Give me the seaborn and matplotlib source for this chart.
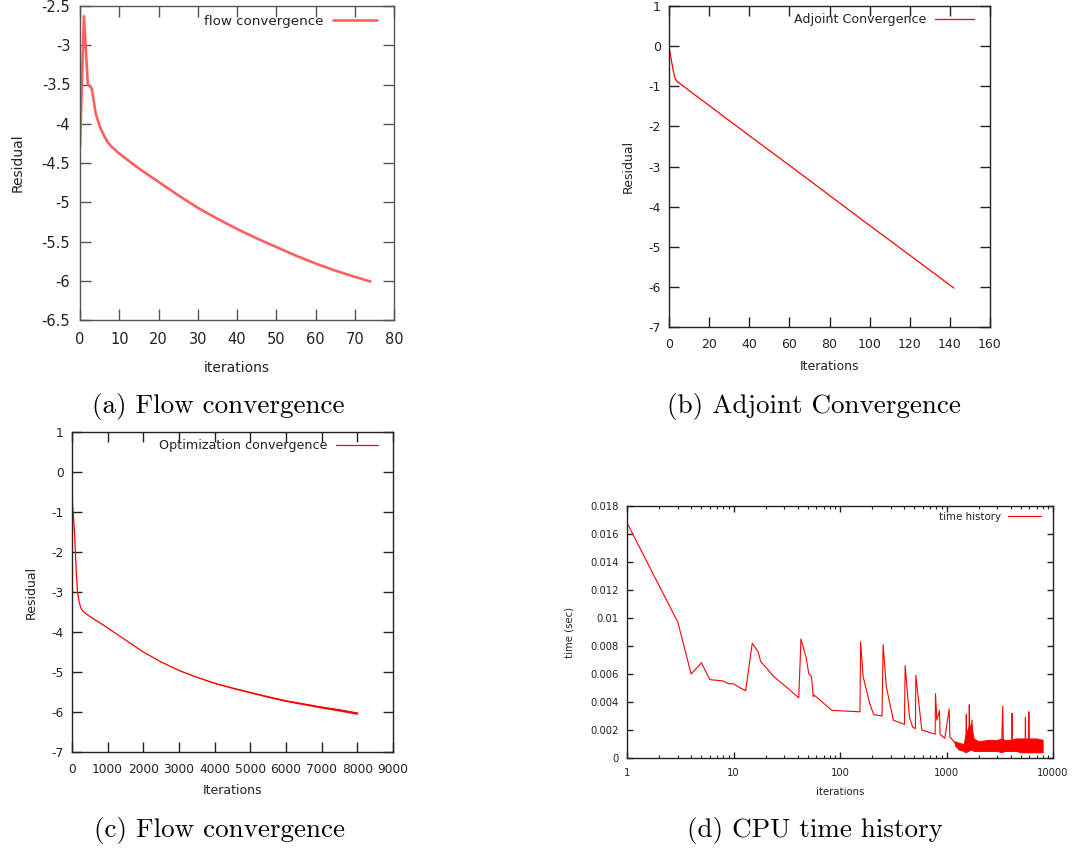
import numpy as np
import matplotlib
matplotlib.use("Agg")
import matplotlib.pyplot as plt
import seaborn as sns
from matplotlib.ticker import FuncFormatter, MultipleLocator, LogLocator

# ---------------- data ----------------
# (a) flow convergence
flow_iter = [0, 1, 2, 3, 4, 5, 6, 7, 8, 10, 15, 20, 25, 30, 35, 40, 45, 50, 55, 60, 65, 70, 74]
flow_res = [-4.30, -2.63, -3.50, -3.55, -3.87, -4.03, -4.14, -4.23, -4.29, -4.38, -4.57, -4.74,
            -4.91, -5.07, -5.21, -5.34, -5.46, -5.57, -5.68, -5.78, -5.87, -5.95, -6.01]

# (b) adjoint convergence
adj_iter = [0, 1, 2, 3, 4, 20, 40, 60, 80, 100, 120, 142]
adj_res = [0.0, -0.30, -0.58, -0.80, -0.88, -1.48, -2.23, -2.97, -3.72, -4.47, -5.21, -6.03]

# (c) optimization convergence
opt_iter = [0, 1, 2, 5, 10, 20, 40, 60, 80, 100, 120, 150, 200, 250, 300, 400, 600, 800,
            1000, 1500, 2000, 2500, 3000, 3500, 4000, 4500, 5000, 5500, 6000, 6500, 7000, 7500, 8000]
opt_res = [-2.20, 0.18, -0.30, -0.50, -0.70, -0.90, -1.10, -1.35, -1.70, -2.10, -2.50, -2.95,
           -3.25, -3.40, -3.47, -3.55, -3.67, -3.78, -3.90, -4.20, -4.50, -4.75, -4.96, -5.13,
           -5.28, -5.40, -5.51, -5.62, -5.72, -5.80, -5.88, -5.95, -6.03]
opt_spread = [0, 0, 0, 0, 0, 0, 0, 0, 0, 0, 0, 0, 0, 0, 0, 0, 0, 0, 0, 0, 0, 0.003, 0.005,
              0.008, 0.010, 0.013, 0.015, 0.018, 0.020, 0.022, 0.025, 0.028, 0.030]

# (d) CPU time history
time_iter = [1, 3, 4, 5, 6, 8, 9, 10, 11, 13, 15, 17, 18, 24, 31, 41, 43, 48, 51, 53, 54, 56, 57,
             84, 154, 156, 165, 190, 207, 248, 254, 272, 317, 403, 409, 449, 482, 511, 515, 586,
             782, 788, 812, 840, 860, 870, 964, 1060, 1075, 1170, 1210, 1300, 1450, 1520, 1535,
             1550, 1620, 1637, 1660, 1738, 1760, 2000, 2500, 3300, 3370, 3420, 4100, 4130, 4170,
             5480, 5510, 5540, 5900, 5930, 5970, 7000, 8000]
time_sec = [0.0168, 0.0097, 0.0060, 0.0068, 0.0056, 0.0055, 0.0053, 0.0053, 0.0051, 0.0048,
            0.0082, 0.0076, 0.0069, 0.0058, 0.0051, 0.0043, 0.0085, 0.0072, 0.0060, 0.0059,
            0.0058, 0.0044, 0.0045, 0.0034, 0.0033, 0.0083, 0.0058, 0.0039, 0.0031, 0.0030,
            0.0081, 0.0051, 0.0027, 0.0024, 0.0066, 0.0029, 0.0022, 0.0021, 0.0059, 0.0020,
            0.0017, 0.0046, 0.0027, 0.0031, 0.0034, 0.0017, 0.0014, 0.0035, 0.0015, 0.0012,
            0.0010, 0.0008, 0.0009, 0.0008, 0.0031, 0.0009, 0.0010, 0.0038, 0.0012, 0.0027,
            0.0010, 0.0009, 0.0010, 0.0009, 0.0037, 0.0010, 0.0009, 0.0032, 0.0010, 0.0009,
            0.0029, 0.0010, 0.0009, 0.0033, 0.0010, 0.0009, 0.0009]
# envelope of the dense noisy band at the end of the time history
band_iter = [1200, 1300, 1450, 1500, 1600, 1700, 1800, 2000, 2500, 3000, 3300, 3500, 4000,
             4500, 5000, 6000, 7000, 8000]
band_lo = [0.0009, 0.0006, 0.0005, 0.0004, 0.0005, 0.0006, 0.0005, 0.0005, 0.0005, 0.0005,
           0.0004, 0.0005, 0.0005, 0.0005, 0.0004, 0.0004, 0.0004, 0.0004]
band_hi = [0.0012, 0.0011, 0.0010, 0.0016, 0.0022, 0.0024, 0.0014, 0.0012, 0.0013, 0.0013,
           0.0014, 0.0013, 0.0013, 0.0014, 0.0014, 0.0014, 0.0014, 0.0013]

captions = ["(a) Flow convergence", "(b) Adjoint Convergence",
            "(c) Flow convergence", "(d) CPU time history"]

# ---------------- style ----------------
sns.set_style("ticks")
plt.rcParams["font.family"] = ["DejaVu Sans"]
plt.rcParams["axes.unicode_minus"] = False
plt.rcParams["xtick.direction"] = "in"
plt.rcParams["ytick.direction"] = "in"
plt.rcParams["xtick.top"] = True
plt.rcParams["ytick.right"] = True

fig = plt.figure(figsize=(10.8, 8.5), dpi=100)
W, H = 1080.0, 850.0


def add_ax(l, t, r, b):
    return fig.add_axes([l / W, 1 - b / H, (r - l) / W, (b - t) / H])


gfmt = FuncFormatter(lambda v, p: "%g" % v)


def style(ax, fs, tl, edge, xpad, ypad):
    for s in ax.spines.values():
        s.set_color(edge)
        s.set_linewidth(1.0)
    ax.tick_params(axis="both", which="major", labelsize=fs, length=tl, width=1.0,
                   color=edge, labelcolor="#222222", top=True, right=True, direction="in")
    ax.tick_params(axis="x", which="major", pad=xpad)
    ax.tick_params(axis="y", which="major", pad=ypad)
    ax.xaxis.set_major_formatter(gfmt)
    ax.yaxis.set_major_formatter(gfmt)


red = "#ff0000"

# (a)
ax_a = add_ax(80, 6, 394, 320)
sns.lineplot(x=flow_iter, y=flow_res, ax=ax_a, color="#ff5f5f", lw=1.9,
             label="flow convergence", estimator=None, sort=False)
ax_a.set_xlim(0, 80)
ax_a.set_ylim(-6.5, -2.5)
ax_a.xaxis.set_major_locator(MultipleLocator(10))
ax_a.yaxis.set_major_locator(MultipleLocator(0.5))
style(ax_a, 10.5, 8, "#555555", 9, 7)
ax_a.set_xlabel("iterations", fontsize=10, color="#222222")
ax_a.set_ylabel("Residual", fontsize=10, color="#222222")
ax_a.xaxis.set_label_coords(0.5, -0.131)
ax_a.yaxis.set_label_coords(-0.175, 0.5)

# (b)
ax_b = add_ax(669, 6, 990, 327)
sns.lineplot(x=adj_iter, y=adj_res, ax=ax_b, color=red, lw=0.9,
             label="Adjoint Convergence", estimator=None, sort=False)
ax_b.set_xlim(0, 160)
ax_b.set_ylim(-7, 1)
ax_b.xaxis.set_major_locator(MultipleLocator(20))
ax_b.yaxis.set_major_locator(MultipleLocator(1))
style(ax_b, 9, 7, "#222222", 8, 6)
ax_b.set_xlabel("Iterations", fontsize=9, color="#222222")
ax_b.set_ylabel("Residual", fontsize=9, color="#222222")
ax_b.xaxis.set_label_coords(0.5, -0.103)
ax_b.yaxis.set_label_coords(-0.106, 0.5)

# (c)
ax_c = add_ax(72, 432, 393, 752)
lo = [v - s for v, s in zip(opt_res, opt_spread)]
hi = [v + s for v, s in zip(opt_res, opt_spread)]
ax_c.fill_between(opt_iter, lo, hi, color=red, lw=0)
sns.lineplot(x=opt_iter, y=opt_res, ax=ax_c, color=red, lw=0.9,
             label="Optimization convergence", estimator=None, sort=False)
ax_c.set_xlim(0, 9000)
ax_c.set_ylim(-7, 1)
ax_c.xaxis.set_major_locator(MultipleLocator(1000))
ax_c.yaxis.set_major_locator(MultipleLocator(1))
style(ax_c, 8.8, 7, "#222222", 8, 6)
ax_c.set_xlabel("Iterations", fontsize=9, color="#222222")
ax_c.set_ylabel("Residual", fontsize=9, color="#222222")
ax_c.xaxis.set_label_coords(0.5, -0.1)
ax_c.yaxis.set_label_coords(-0.106, 0.5)

# (d)
ax_d = add_ax(627, 506, 1053, 758)
ax_d.fill_between(band_iter, band_lo, band_hi, color=red, lw=0.6)
sns.lineplot(x=time_iter, y=time_sec, ax=ax_d, color=red, lw=0.8,
             label="time history", estimator=None, sort=False)
ax_d.set_xscale("log")
ax_d.set_xlim(1, 10000)
ax_d.set_ylim(0, 0.018)
ax_d.yaxis.set_major_locator(MultipleLocator(0.002))
ax_d.xaxis.set_major_locator(LogLocator(base=10, numticks=10))
ax_d.xaxis.set_minor_locator(LogLocator(base=10, subs=np.arange(2, 10), numticks=20))
style(ax_d, 7.2, 4, "#222222", 7, 6)
ax_d.tick_params(axis="x", which="minor", length=2.5, width=0.8, color="#222222",
                 top=True, direction="in")
ax_d.xaxis.set_minor_formatter(FuncFormatter(lambda v, p: ""))
ax_d.set_xlabel("iterations", fontsize=7.3, color="#222222")
ax_d.set_ylabel("time (sec)", fontsize=7.3, color="#222222")
ax_d.xaxis.set_label_coords(0.5, -0.115)
ax_d.yaxis.set_label_coords(-0.124, 0.5)

# legends (gnuplot-style: text then sample)
# (axis, font size, handle length, right gap px, top gap px, axes w px, axes h px)
leg_specs = [(ax_a, 9.7, 3.25, 17, 9, 314, 314),
             (ax_b, 9.1, 3.1, 16, 7, 321, 321),
             (ax_c, 9.2, 3.3, 15, 7, 321, 320),
             (ax_d, 7.4, 3.2, 12, 6, 426, 252)]
for ax, fs, hl, gx, gy, aw, ah in leg_specs:
    leg = ax.legend(loc="upper right", frameon=False, markerfirst=False, fontsize=fs,
                    handlelength=hl, borderaxespad=0, borderpad=0, handletextpad=0.7,
                    bbox_to_anchor=(1 - gx / aw, 1 - gy / ah))
    for t in leg.get_texts():
        t.set_color("#222222")

# captions
cap_pos = [(218, 406), (814, 406), (219, 830), (815, 830)]
for txt, (cx, cy) in zip(captions, cap_pos):
    fig.text(cx / W, 1 - cy / H, txt, family="cmr10", fontsize=19.5,
             ha="center", va="center", color="black")

fig.savefig("out.png", dpi=100)
